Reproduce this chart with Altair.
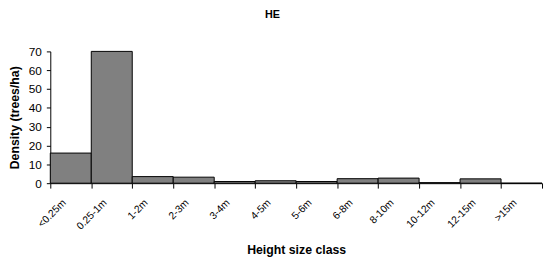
import altair as alt
import pandas as pd

categories = ["<0.25m", "0.25-1m", "1-2m", "2-3m", "3-4m", "4-5m", "5-6m",
              "6-8m", "8-10m", "10-12m", "12-15m", ">15m"]
density = [16, 70, 3.5, 3.2, 0.9, 1.3, 0.9, 2.4, 2.7, 0.3, 2.3, 0]

df = pd.DataFrame({"cls": categories, "density": density})

FONT = "Liberation Sans"

chart = alt.Chart(df).mark_bar(
    fill="#808080", stroke="#000000", strokeWidth=1
).encode(
    x=alt.X("cls:N", sort=categories,
            scale=alt.Scale(paddingInner=0, paddingOuter=0),
            axis=alt.Axis(title="Height size class", labelAngle=-45,
                          labelAlign="right", labelBaseline="middle",
                          labelPadding=13, labelOffset=-7, tickSize=5,
                          tickBand="extent", labelFontSize=10.5,
                          labelOverlap=False, titlePadding=12)),
    y=alt.Y("density:Q", scale=alt.Scale(domain=[0, 70], nice=False),
            axis=alt.Axis(title="Density (trees/ha)", values=[0, 10, 20, 30, 40, 50, 60, 70],
                          tickSize=4, labelPadding=5, labelFontSize=12,
                          titlePadding=7)),
).properties(
    width=500, height=134,
    title=alt.TitleParams("HE", fontSize=11, fontWeight="bold", font=FONT,
                          anchor="middle", dx=-24, offset=25.5, color="#000000"),
    padding={"left": 43, "top": 42, "right": 2, "bottom": 78},
    autosize="none",
).configure_view(stroke=None).configure_axis(
    grid=False, domainColor="#000000", tickColor="#000000",
    labelColor="#000000", titleColor="#000000",
    labelFont=FONT, titleFont=FONT, titleFontSize=12.5,
    titleFontWeight="bold", domainWidth=1, tickWidth=1
)

chart.save("out.html", embed_options={"renderer": "svg", "actions": False})
